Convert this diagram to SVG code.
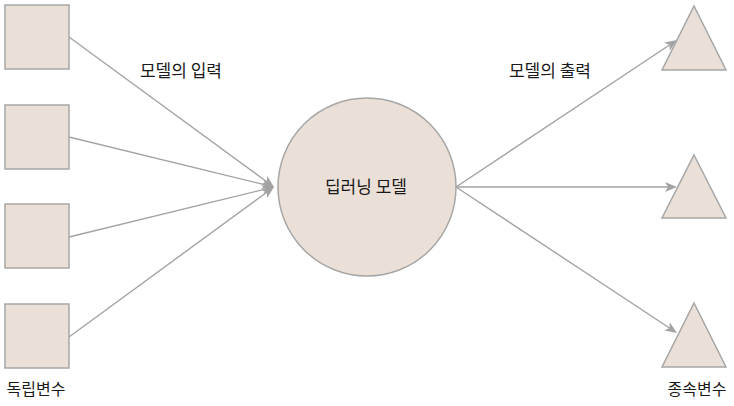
<svg xmlns="http://www.w3.org/2000/svg" width="734" height="406" viewBox="0 0 734 406">
<style>
.shape{fill:#ebe0d7;stroke:#a6a6a6;stroke-width:1.5}
.conn{stroke:#a3a3a3;stroke-width:1.4;fill:none}
.lbl{font-family:"Noto Sans CJK KR","Noto Sans",sans-serif;font-size:16px;fill:#1a1a1a;text-anchor:middle}
.big{font-size:17px}
</style>
<defs>
<marker id="arr" markerUnits="userSpaceOnUse" markerWidth="13" markerHeight="11" refX="3" refY="5" orient="auto">
<path d="M0,0 L12,5 L0,10 L3,5 z" fill="#a3a3a3"/>
</marker>
</defs>
<rect width="734" height="406" fill="#ffffff"/>
<g id="connectors">
<line class="conn" x1="69" y1="37" x2="266.7" y2="181.7" marker-end="url(#arr)"/>
<line class="conn" x1="69" y1="137" x2="265.3" y2="184.9" marker-end="url(#arr)"/>
<line class="conn" x1="69" y1="237" x2="265.3" y2="189.1" marker-end="url(#arr)"/>
<line class="conn" x1="69" y1="337" x2="266.7" y2="192.3" marker-end="url(#arr)"/>
<line class="conn" x1="456" y1="187" x2="669.5" y2="45" marker-end="url(#arr)"/>
<line class="conn" x1="456" y1="187" x2="668" y2="187" marker-end="url(#arr)"/>
<line class="conn" x1="456" y1="187" x2="669.5" y2="328" marker-end="url(#arr)"/>
</g>
<g id="in1"><rect class="shape" x="5" y="5" width="64" height="64"/></g>
<g id="in2"><rect class="shape" x="5" y="105" width="64" height="64"/></g>
<g id="in3"><rect class="shape" x="5" y="204" width="64" height="64"/></g>
<g id="in4"><rect class="shape" x="5" y="304" width="64" height="64"/></g>
<g id="model"><circle class="shape" cx="367" cy="187" r="89"/><text class="lbl big" x="366" y="193">딥러닝 모델</text></g>
<g id="out1"><polygon class="shape" points="694,6 726,70 662,70"/></g>
<g id="out2"><polygon class="shape" points="694,155 726,218 662,218"/></g>
<g id="out3"><polygon class="shape" points="694,303 726,367 662,367"/></g>
<g id="labels">
<text class="lbl big" x="181" y="77">모델의 입력</text>
<text class="lbl big" x="550" y="77">모델의 출력</text>
<text class="lbl" x="36" y="395">독립변수</text>
<text class="lbl" x="697" y="395">종속변수</text>
</g>
</svg>
